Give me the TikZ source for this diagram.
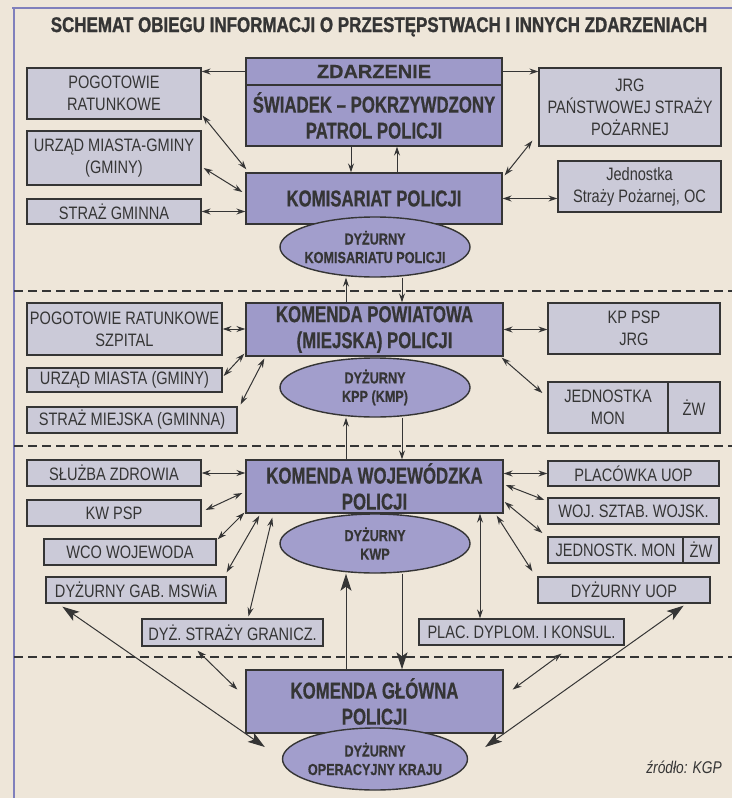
\documentclass[tikz,border=0pt]{standalone}
\usepackage{fontspec}
\setmainfont{Liberation Sans}
\newfontfamily\fbold[FakeStretch=0.73,FakeBold=0.6]{Liberation Sans}
\newfontfamily\freg[FakeStretch=0.81]{Liberation Sans}
\newfontfamily\fell[FakeStretch=0.79,FakeBold=0.4]{Liberation Sans}
\newfontfamily\fwide[FakeStretch=1.05,FakeBold=0.5]{Liberation Sans}
\newfontfamily\ftitle[FakeStretch=0.8,FakeBold=1.2]{Liberation Sans}
\usetikzlibrary{arrows.meta,shapes.geometric}
\definecolor{bg}{HTML}{EEE6D9}
\definecolor{mainfill}{HTML}{9E9AC9}
\definecolor{sidefill}{HTML}{CBCAD8}
\definecolor{ellfill}{HTML}{A29ECC}
\definecolor{ink}{HTML}{353535}
\definecolor{framec}{HTML}{8080BC}
\begin{document}
\begin{tikzpicture}[x=1pt,y=-1pt,
  mainbox/.style={draw=ink,line width=1.4pt,fill=mainfill,inner sep=0pt,align=center,text=ink,font=\fbold\bfseries\fontsize{23}{26}\selectfont},
  sidebox/.style={draw=ink,line width=1.3pt,fill=sidefill,inner sep=0pt,align=center,text=ink,font=\freg\fontsize{18}{22}\selectfont},
  ell/.style={ellipse,draw=ink,line width=1.4pt,fill=ellfill,inner sep=0pt},
  elltext/.style={align=center,text=ink,inner sep=0pt,font=\fell\bfseries\fontsize{16}{18.5}\selectfont},
  >={Stealth[length=9pt,width=6pt,inset=3pt]},
  conn/.style={draw=ink,line width=1pt},
  bigtip/.tip={Stealth[length=17pt,width=11pt,inset=4pt]},
  sepline/.style={draw=ink,line width=1.8pt,dash pattern=on 9pt off 5pt},
]
\fill[bg] (0,0) rectangle (732,798);
\useasboundingbox (0,0) rectangle (732,798);
\draw[framec,line width=2pt] (12,8) -- (732,8);
\draw[framec,line width=2pt] (14,8) -- (14,798);

\node[font=\ftitle\bfseries\fontsize{21.2}{23}\selectfont,text=ink,anchor=base,inner sep=0pt] (title) at (379,32) {SCHEMAT OBIEGU INFORMACJI O PRZESTĘPSTWACH I INNYCH ZDARZENIACH};

% separators
\draw[sepline] (14,291) -- (732,291);
\draw[sepline] (14,446) -- (732,446);
\draw[sepline] (14,657) -- (732,657);

\coordinate (L) at (346,0);
\coordinate (R) at (402,0);
\coordinate (A1) at (351,0);
\coordinate (A2) at (397,0);
\coordinate (P) at (480,0);

% ---- section 1
\node[mainbox,minimum width=256,minimum height=27,font=\fwide\bfseries\fontsize{19}{21}\selectfont] (zdt) at (374,71.5) {ZDARZENIE};
\node[mainbox,minimum width=256,minimum height=61] (zdb) at (374,115.5) {ŚWIADEK – POKRZYWDZONY\\PATROL POLICJI};
\node[sidebox,minimum width=174,minimum height=51] (pog1) at (114,93.5) {POGOTOWIE\\RATUNKOWE};
\node[sidebox,minimum width=174,minimum height=54] (urz1) at (114,158) {URZĄD MIASTA-GMINY\\(GMINY)};
\node[sidebox,minimum width=174,minimum height=25] (str1) at (114,211.5) {STRAŻ GMINNA};
\node[mainbox,minimum width=256,minimum height=51] (kom) at (374,198.5) {KOMISARIAT POLICJI};
\node[ell,minimum width=190,minimum height=60] (e1) at (375,247) {};
\node[elltext] (e1t) at (e1) {DYŻURNY\\KOMISARIATU POLICJI};
\node[sidebox,minimum width=182,minimum height=78] (jrg) at (630,107) {JRG\\PAŃSTWOWEJ STRAŻY\\POŻARNEJ};
\node[sidebox,minimum width=163,minimum height=51] (jos) at (639.5,186.5) {Jednostka\\Straży Pożarnej, OC};

% ---- section 2
\node[sidebox,minimum width=195,minimum height=52] (pog2) at (124.5,329) {POGOTOWIE RATUNKOWE\\SZPITAL};
\node[sidebox,minimum width=195,minimum height=24] (urz2) at (124.5,380) {URZĄD MIASTA (GMINY)};
\node[sidebox,minimum width=210,minimum height=26] (str2) at (132,420) {STRAŻ MIEJSKA (GMINNA)};
\node[mainbox,minimum width=257,minimum height=53] (kpp) at (374.5,329.5) {KOMENDA POWIATOWA\\(MIEJSKA) POLICJI};
\node[ell,minimum width=190,minimum height=59] (e2) at (375,387.5) {};
\node[elltext] (e2t) at (e2) {DYŻURNY\\KPP (KMP)};
\node[sidebox,minimum width=172,minimum height=51] (kppsp) at (634,328.5) {KP PSP\\JRG};
\node[sidebox,minimum width=120,minimum height=51] (jm2a) at (608,407.5) {JEDNOSTKA\\MON};
\node[sidebox,minimum width=52,minimum height=51] (jm2b) at (694,407.5) {ŻW};

% ---- section 3
\node[sidebox,minimum width=174,minimum height=26] (sz) at (114,473) {SŁUŻBA ZDROWIA};
\node[sidebox,minimum width=174,minimum height=26] (kwpsp) at (114,513) {KW PSP};
\node[sidebox,minimum width=172,minimum height=26] (wco) at (130,552) {WCO WOJEWODA};
\node[sidebox,minimum width=180,minimum height=26] (gab) at (136,590) {DYŻURNY GAB. MSWiA};
\node[sidebox,minimum width=181,minimum height=27] (sg) at (232.5,632.5) {DYŻ. STRAŻY GRANICZ.};
\node[mainbox,minimum width=257,minimum height=53] (kw) at (374.5,486.5) {KOMENDA WOJEWÓDZKA\\POLICJI};
\node[ell,minimum width=190,minimum height=59] (e3) at (375,543.5) {};
\node[elltext] (e3t) at (e3) {DYŻURNY\\KWP};
\node[sidebox,minimum width=171,minimum height=25] (uop) at (633.5,473.5) {PLACÓWKA UOP};
\node[sidebox,minimum width=171,minimum height=26] (woj) at (633.5,511) {WOJ. SZTAB. WOJSK.};
\node[sidebox,minimum width=135,minimum height=26] (jm3a) at (615.5,550) {JEDNOSTK. MON};
\node[sidebox,minimum width=36,minimum height=26] (jm3b) at (701,550) {ŻW};
\node[sidebox,minimum width=172,minimum height=26] (duop) at (624,590) {DYŻURNY UOP};
\node[sidebox,minimum width=205,minimum height=26] (pd) at (521.5,632) {PLAC. DYPLOM. I KONSUL.};

% ---- section 4
\node[mainbox,minimum width=257,minimum height=63] (kg) at (374.5,701.5) {KOMENDA GŁÓWNA\\POLICJI};
\node[ell,minimum width=185,minimum height=62] (e4) at (375,759) {};
\node[elltext] (e4t) at (e4) {DYŻURNY\\OPERACYJNY KRAJU};

\node[anchor=base east,inner sep=0pt,text=ink,font=\freg\itshape\fontsize{17}{19}\selectfont] (src) at (722,773) {źródło: KGP};

% ---- connectors section 1
\draw[conn,->] (zdt.west) -- (zdt.west -| pog1.east);
\draw[conn,->] (zdt.east) -- (zdt.east -| jrg.west);
\draw[conn,->] (zdb.south -| A1) -- (kom.north -| A1);
\draw[conn,->] (kom.north -| A2) -- (zdb.south -| A2);
\draw[conn,<->] ([shift={(1,-4)}]pog1.south east) -- ([shift={(1,-3)}]kom.north west);
\draw[conn,<->] ([shift={(2,10)}]urz1.east) -- ([shift={(-3,-6.5)}]kom.west);
\draw[conn,<->] (str1.east) -- (str1.east -| kom.west);
\draw[conn,<->] ([shift={(2,3)}]kom.north east) -- ([shift={(-6,-6)}]jrg.south west);
\draw[conn,<->] (kom.east) -- (kom.east -| jos.west);
\draw[conn,->] (kpp.north -| L) -- (e1.south -| L);
\draw[conn,->] (e1.south -| R) -- (kpp.north -| R);

% ---- section 2
\draw[conn,<->] (pog2.east) -- (pog2.east -| kpp.west);
\draw[conn,<->] ([shift={(1,-4)}]urz2.east) -- ([shift={(-1,-3)}]kpp.south west);
\draw[conn,<->] ([shift={(3,-2)}]str2.north east) -- ([shift={(19,2)}]kpp.south west);
\draw[conn,<->] (kpp.east) -- (kpp.east -| kppsp.west);
\draw[conn,<->] ([shift={(-2,1)}]kpp.south east) -- ([shift={(-5,-14.5)}]jm2a.west);
\draw[conn,->] (kw.north -| L) -- (e2.south -| L);
\draw[conn,->] (e2.south -| R) -- (kw.north -| R);

% ---- section 3
\draw[conn,<->] (sz.east) -- (sz.east -| kw.west);
\draw[conn,<->] ([shift={(4,-3)}]kwpsp.east) -- ([shift={(-3,6.5)}]kw.west);
\draw[conn,<->] ([shift={(1,1)}]wco.north east) -- ([shift={(-1,-1)}]kw.south west);
\draw[conn,<->] ([shift={(0,-4)}]gab.north east) -- ([shift={(14,2)}]kw.south west);
\draw[conn,<->] ([shift={(16,-2)}]sg.north) -- ([shift={(27,4)}]kw.south west);
\draw[conn,<->] (kw.east |- uop.west) -- (uop.west);
\draw[conn,<->] ([shift={(2,-1.5)}]kw.east) -- ([shift={(-3,-11)}]woj.west);
\draw[conn,<->] ([shift={(1,15.5)}]kw.east) -- ([shift={(-5,-17)}]jm3a.west);
\draw[conn,<->] ([shift={(-7,2)}]kw.south east) -- ([shift={(-5,-5)}]duop.north west);
\draw[conn,<->] (kw.south -| P) -- (pd.north -| P);

% ---- section 4
\draw[conn,-bigtip] (kg.north -| L) -- (e3.south -| L);
\draw[conn,-bigtip] (e3.south -| R) -- (kg.north -| R);
\draw[conn,bigtip-bigtip] ([shift={(17,3)}]gab.south west) -- ([shift={(-17,-12)}]e4.west);
\draw[conn,bigtip-bigtip] ([shift={(-27,2)}]duop.south east) -- ([shift={(17,-12)}]e4.east);
\draw[conn,<->] ([shift={(-35,4)}]sg.south) -- ([shift={(-8,-12)}]kg.west);
\draw[conn,<->] ([shift={(40,8)}]pd.south) -- ([shift={(9,-12)}]kg.east);
\end{tikzpicture}
\end{document}
